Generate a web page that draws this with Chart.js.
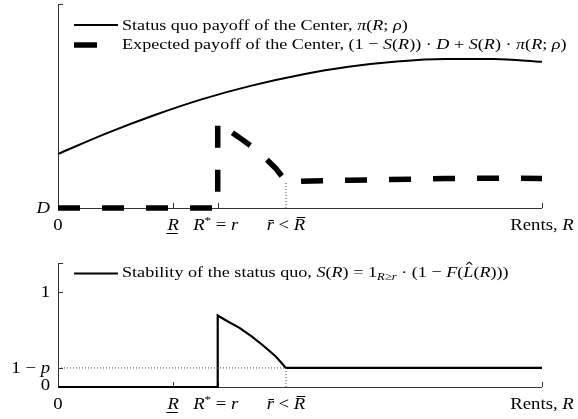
<!DOCTYPE html>
<html>
<head>
<meta charset="utf-8">
<script src="https://cdn.jsdelivr.net/npm/chart.js@4"></script>
<style>
  body { margin: 0; background: #fff; }
  canvas { position: absolute; left: 0; }
  #payoff-chart { top: 0; }
  #stability-chart { top: 240px; }
</style>
</head>
<body>
<canvas id="payoff-chart" width="578" height="240"></canvas>
<canvas id="stability-chart" width="578" height="179"></canvas>
<script>
// Dados (eixo x de 0 a 10 unidades)
const rents = [0, 1, 2, 3, 4, 5, 6, 7, 8, 9, 10];
const statusQuoPayoff = [2.65, 3.66, 4.56, 5.35, 6.0, 6.52, 6.92, 7.18, 7.3, 7.3, 7.17];

const expectedRents = [0, 3.3, 3.3, 3.5, 3.75, 4.0, 4.25, 4.5, 4.71, 6, 8, 9, 10];
const expectedPayoff = [0, 0, 4.22, 3.86, 3.45, 3.02, 2.52, 1.94, 1.3, 1.36, 1.44, 1.46, 1.45];

const stabilityRents = [0, 3.3, 3.3, 3.5, 3.75, 4.0, 4.25, 4.5, 4.71, 10];
const stabilityValues = [0, 0, 0.75, 0.69, 0.62, 0.53, 0.43, 0.32, 0.2, 0.2];

// Marcas dos eixos
const xTickValues = [0, 2.38, 3.3, 4.71, 10];
const rBar = 4.71;
const onePMinus = 0.2;
const topYTicks = [0, 10];
const bottomYTicks = [0, 0.2, 1, 1.3];

const serif = '"Liberation Serif", "Times New Roman", serif';
const FS = 16;
const STRETCH = 1.17; // Liberation Serif é mais estreita que Computer Modern

// Rótulos em "texto rico" (itálico, barra, sublinhado...)
const xTickLabels = [
    [{ t: '0' }],
    [{ t: 'R', i: 1, under: 1 }],
    [{ t: 'R', i: 1 }, { t: '*', sup: 1 }, { t: ' = ' }, { t: 'r', i: 1 }],
    [{ t: 'r', i: 1, bar: 0.62 }, { t: ' < ' }, { t: 'R', i: 1, bar: 0.82 }],
    [{ t: 'Rents, ' }, { t: 'R', i: 1 }]
];
const xLabelShift = [0, 0, -2, 0, 0];

const topYLabels = [[{ t: 'D', i: 1 }], null];
const bottomYLabels = [[{ t: '0' }], [{ t: '1 − ' }, { t: 'p', i: 1 }], [{ t: '1' }], null];

const legendTop = [
    [{ t: 'Status quo payoff of the Center, ' }, { t: 'π', i: 1 }, { t: '(' }, { t: 'R', i: 1 }, { t: '; ' }, { t: 'ρ', i: 1 }, { t: ')' }],
    [{ t: 'Expected payoff of the Center, (1 − ' }, { t: 'S', i: 1 }, { t: '(' }, { t: 'R', i: 1 }, { t: ')) · ' },
     { t: 'D', i: 1 }, { t: ' + ' }, { t: 'S', i: 1 }, { t: '(' }, { t: 'R', i: 1 }, { t: ') · ' },
     { t: 'π', i: 1 }, { t: '(' }, { t: 'R', i: 1 }, { t: '; ' }, { t: 'ρ', i: 1 }, { t: ')' }]
];
const legendBottom = [
    [{ t: 'Stability of the status quo, ' }, { t: 'S', i: 1 }, { t: '(' }, { t: 'R', i: 1 }, { t: ') = 1' },
     { t: 'R≥r', i: 1, sub: 1 }, { t: ' · (1 − ' }, { t: 'F', i: 1 }, { t: '(' }, { t: 'L', i: 1, hat: 1 },
     { t: '(' }, { t: 'R', i: 1 }, { t: ')))' }]
];

function segFont(seg, size) {
    const s = (seg.sub || seg.sup) ? size * 0.7 : size;
    return (seg.i ? 'italic ' : '') + s + 'px ' + serif;
}

function richWidth(ctx, segs, size) {
    let w = 0;
    segs.forEach(seg => {
        ctx.font = segFont(seg, size);
        w += ctx.measureText(seg.t).width;
    });
    return w;
}

function drawRich(ctx, segs, x, y, size, align) {
    const w = richWidth(ctx, segs, size) * STRETCH;
    const x0 = align === 'center' ? x - w / 2 : (align === 'right' ? x - w : x);
    ctx.save();
    ctx.translate(x0, y);
    ctx.scale(STRETCH, 1);
    ctx.textAlign = 'left';
    ctx.textBaseline = 'alphabetic';
    ctx.fillStyle = '#000';
    ctx.strokeStyle = '#000';
    ctx.lineWidth = 1;
    let cx = 0;
    segs.forEach(seg => {
        ctx.font = segFont(seg, size);
        const dy = seg.sub ? size * 0.22 : (seg.sup ? -size * 0.38 : 0);
        ctx.fillText(seg.t, cx, dy);
        const sw = ctx.measureText(seg.t).width;
        if (seg.bar) {
            const by = -Math.round(size * seg.bar) + 0.5;
            ctx.beginPath();
            ctx.moveTo(cx + sw * 0.25, by);
            ctx.lineTo(cx + sw * 1.0, by);
            ctx.stroke();
        }
        if (seg.under) {
            const uy = Math.round(size * 0.18) + 0.5;
            ctx.beginPath();
            ctx.moveTo(cx - 1, uy);
            ctx.lineTo(cx + sw - 1, uy);
            ctx.stroke();
        }
        if (seg.hat) {
            const hx = cx + sw * 0.6, hy = -size * 0.8;
            ctx.beginPath();
            ctx.moveTo(hx - 2.5, hy);
            ctx.lineTo(hx, hy - 2.5);
            ctx.lineTo(hx + 2.5, hy);
            ctx.stroke();
        }
        cx += sw;
    });
    ctx.restore();
}

// Plugin para eixos no estilo LaTeX (marcas para dentro) e legenda
const texAxes = {
    id: 'texAxes',
    beforeDatasetsDraw(chart, args, opts) {
        const ctx = chart.ctx;
        const xs = chart.scales.x, ys = chart.scales.y;
        const area = chart.chartArea;
        ctx.save();
        ctx.strokeStyle = '#333';
        ctx.lineWidth = 1;
        ctx.beginPath();
        ctx.moveTo(area.left + 0.5, area.top);
        ctx.lineTo(area.left + 0.5, area.bottom + 0.5);
        ctx.lineTo(area.right, area.bottom + 0.5);
        ctx.stroke();
        // marcas do eixo x
        opts.xTicks.forEach(v => {
            if (v === 0 || v === rBar) return;
            const px = Math.round(xs.getPixelForValue(v)) + 0.5;
            ctx.beginPath();
            ctx.moveTo(px, area.bottom);
            ctx.lineTo(px, area.bottom - 5);
            ctx.stroke();
        });
        // marcas do eixo y
        opts.yTicks.forEach(v => {
            if (v === 0) return;
            const py = Math.round(ys.getPixelForValue(v)) + 0.5;
            ctx.beginPath();
            ctx.moveTo(area.left, py);
            ctx.lineTo(area.left + 5, py);
            ctx.stroke();
        });
        ctx.restore();
    },
    afterDraw(chart, args, opts) {
        const ctx = chart.ctx;
        const xs = chart.scales.x, ys = chart.scales.y;
        const area = chart.chartArea;
        ctx.save();
        xTickLabels.forEach((segs, k) => {
            const px = xs.getPixelForValue(xTickValues[k]) + xLabelShift[k];
            drawRich(ctx, segs, px, area.bottom + 22, FS, 'center');
        });
        opts.yLabels.forEach((segs, k) => {
            if (!segs) return;
            const py = ys.getPixelForValue(opts.yTicks[k]);
            const off = opts.yTicks[k] === 0 && opts.yTicks.length > 2 ? 3 : 5;
            drawRich(ctx, segs, area.left - 8, py + off, FS, 'right');
        });
        opts.legend.forEach(item => {
            ctx.save();
            ctx.strokeStyle = '#000';
            ctx.lineWidth = item.width;
            ctx.beginPath();
            ctx.moveTo(74, item.y);
            ctx.lineTo(item.len, item.y);
            ctx.stroke();
            ctx.restore();
            drawRich(ctx, item.segs, 122, item.base, item.size, 'left');
        });
        ctx.restore();
    }
};

function pts(xs, ys) {
    return xs.map((x, k) => ({ x: x, y: ys[k] }));
}

const dotted = {
    borderColor: '#444',
    borderWidth: 1,
    borderDash: [1, 2],
    pointRadius: 0,
    clip: false
};

function baseOptions(yMax, pad, extra) {
    return {
        responsive: false,
        animation: false,
        devicePixelRatio: 1,
        layout: { padding: pad },
        plugins: { legend: { display: false }, tooltip: { enabled: false }, texAxes: extra },
        scales: {
            x: { type: 'linear', min: 0, max: 10, display: false },
            y: { type: 'linear', min: 0, max: yMax, display: false }
        }
    };
}

// Gráfico de cima: payoffs do Centro
new Chart(document.getElementById('payoff-chart'), {
    type: 'line',
    data: {
        datasets: [
            Object.assign({ data: pts([rBar, rBar], [0, expectedPayoff[8]]) }, dotted),
            {
                data: pts(rents, statusQuoPayoff),
                borderColor: '#000',
                borderWidth: 2,
                pointRadius: 0,
                cubicInterpolationMode: 'monotone',
                clip: false
            },
            {
                data: pts(expectedRents, expectedPayoff),
                borderColor: '#000',
                borderWidth: 5.5,
                borderDash: [22, 22],
                borderCapStyle: 'butt',
                pointRadius: 0,
                tension: 0,
                clip: false
            }
        ]
    },
    options: baseOptions(10, { left: 58, right: 36, top: 4, bottom: 32 }, {
        xTicks: xTickValues,
        yTicks: topYTicks,
        yLabels: topYLabels,
        legend: [
            { segs: legendTop[0], y: 25, len: 118, width: 2, base: 30, size: 15.5 },
            { segs: legendTop[1], y: 45, len: 97, width: 5.5, base: 49, size: 15.5 }
        ]
    }),
    plugins: [texAxes]
});

// Gráfico de baixo: estabilidade do status quo
new Chart(document.getElementById('stability-chart'), {
    type: 'line',
    data: {
        datasets: [
            Object.assign({ data: pts([0, rBar], [onePMinus, onePMinus]) }, dotted),
            Object.assign({ data: pts([rBar, rBar], [0, onePMinus]) }, dotted),
            {
                data: pts(stabilityRents, stabilityValues),
                borderColor: '#000',
                borderWidth: 2.2,
                pointRadius: 0,
                tension: 0,
                clip: false
            }
        ]
    },
    options: baseOptions(1.3, { left: 58, right: 36, top: 23, bottom: 32 }, {
        xTicks: xTickValues,
        yTicks: bottomYTicks,
        yLabels: bottomYLabels,
        legend: [
            { segs: legendBottom[0], y: 33.5, len: 118, width: 2.2, base: 37, size: 15.5 }
        ]
    }),
    plugins: [texAxes]
});
</script>
</body>
</html>
